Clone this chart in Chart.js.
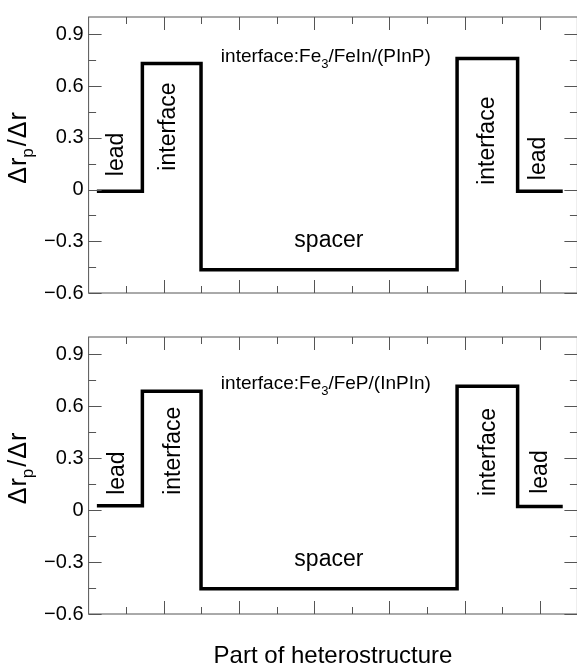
<!DOCTYPE html>
<html>
<head>
<meta charset="utf-8">
<script src="https://cdn.jsdelivr.net/npm/chart.js@4.4.1/dist/chart.umd.min.js"></script>
<style>
  html, body { margin: 0; padding: 0; background: #fff; }
  body { width: 577px; height: 667px; overflow: hidden; position: relative; }
  canvas { position: absolute; left: 0; }
</style>
</head>
<body>
<canvas id="topChart" width="580" height="320" style="top:0"></canvas>
<canvas id="bottomChart" width="580" height="347" style="top:320px"></canvas>
<script>
  // ======= Data =======
  // x positions where the profile changes level (arbitrary units along the heterostructure)
  const STEP_EDGES = [0.22, 1.43, 2.99, 9.80, 11.41, 12.61];
  // level of each part: lead, interface, spacer, interface, lead
  const TOP_LEVELS    = [-0.010, 0.730, -0.465, 0.760, -0.010];
  const BOTTOM_LEVELS = [ 0.025, 0.686, -0.454, 0.715,  0.021];

  const Y_MIN = -0.6, Y_MAX = 1.0, Y_STEP = 0.3, Y_MINOR = 0.15;
  const X_MIN = 0, X_MAX = 13;
  const X_MAJOR = [2, 4, 6, 8, 10, 12];
  const X_MINOR = [1, 3, 5, 7, 9, 11];

  const TOP_TITLE    = ["interface:Fe", "3", "/FeIn/(PInP)"];
  const BOTTOM_TITLE = ["interface:Fe", "3", "/FeP/(InPIn)"];
  const X_TITLE = "Part of heterostructure";

  // labels inside the panels: [text, x, y, vertical]
  const TOP_LABELS = [
    ["lead", 0.74, 0.203, true],
    ["interface", 2.14, 0.365, true],
    ["spacer", 6.39, -0.336, false],
    ["interface", 10.62, 0.283, true],
    ["lead", 11.98, 0.180, true]
  ];
  const BOTTOM_LABELS = [
    ["lead", 0.77, 0.214, true],
    ["interface", 2.27, 0.343, true],
    ["spacer", 6.39, -0.320, false],
    ["interface", 10.65, 0.336, true],
    ["lead", 12.03, 0.220, true]
  ];

  const FONT = "'Liberation Sans', Arial, Helvetica, sans-serif";
  const FRAME = "#555";

  function stepPoints(levels) {
    const pts = levels.map((v, i) => ({ x: STEP_EDGES[i], y: v }));
    pts.push({ x: STEP_EDGES[STEP_EDGES.length - 1], y: levels[levels.length - 1] });
    return pts;
  }

  function fmtTick(v) {
    if (Math.abs(v) < 1e-9) return "0";
    return (v < 0 ? "\u2212" : "") + Math.abs(v).toFixed(1);
  }

  // draw pieces of text with a subscript, starting at x (baseline y)
  function drawParts(ctx, parts, x, y, size, subSize, subShift) {
    let cx = x;
    parts.forEach(p => {
      ctx.font = (p.sub ? subSize : size) + "px " + FONT;
      ctx.fillText(p.t, cx, y + (p.sub ? subShift : 0));
      cx += ctx.measureText(p.t).width + (p.gap || 0);
    });
    return cx - x;
  }
  function partsWidth(ctx, parts, size, subSize) {
    let w = 0;
    parts.forEach(p => {
      ctx.font = (p.sub ? subSize : size) + "px " + FONT;
      w += ctx.measureText(p.t).width + (p.gap || 0);
    });
    return w;
  }

  // frame, inward ticks, labels and axis title
  const decor = {
    id: "decor",
    afterDatasetsDraw(chart, args, opts) {
      const { ctx, chartArea: a, scales: { x, y } } = chart;
      ctx.save();
      ctx.strokeStyle = FRAME;
      ctx.lineWidth = 1;
      ctx.strokeRect(a.left, a.top, a.right - a.left, a.bottom - a.top);

      ctx.beginPath();
      const tick = (px, py, dx, dy) => { ctx.moveTo(px, py); ctx.lineTo(px + dx, py + dy); };
      X_MAJOR.forEach(v => {
        const px = Math.round(x.getPixelForValue(v)) + 0.5;
        tick(px, a.bottom, 0, -13); tick(px, a.top, 0, 13);
      });
      X_MINOR.forEach(v => {
        const px = Math.round(x.getPixelForValue(v)) + 0.5;
        tick(px, a.bottom, 0, -7); tick(px, a.top, 0, 7);
      });
      for (let v = Y_MIN; v <= Y_MAX + 1e-9; v += Y_MINOR) {
        const k = Math.round((v - Y_MIN) / Y_MINOR);
        const len = k % 2 === 0 ? 13 : 7.5;
        const py = Math.round(y.getPixelForValue(v)) + 0.5;
        tick(a.left, py, len, 0); tick(a.right, py, -len, 0);
      }
      ctx.stroke();

      // labels inside the panel
      ctx.fillStyle = "#000";
      ctx.font = "23px " + FONT;
      opts.labels.forEach(([t, lx, ly, vert]) => {
        const px = x.getPixelForValue(lx), py = y.getPixelForValue(ly);
        ctx.save();
        ctx.translate(px, py);
        if (vert) {
          ctx.rotate(-Math.PI / 2);
          ctx.textAlign = "center";
          ctx.textBaseline = "middle";
        } else {
          ctx.textAlign = "center";
          ctx.textBaseline = "alphabetic";
        }
        ctx.fillText(t, 0, 0);
        ctx.restore();
      });

      // panel title with subscript
      const tp = [{ t: opts.title[0] }, { t: opts.title[1], sub: true }, { t: opts.title[2] }];
      ctx.textAlign = "left";
      ctx.textBaseline = "alphabetic";
      const tw = partsWidth(ctx, tp, 19, 13);
      drawParts(ctx, tp, x.getPixelForValue(opts.titleX) - tw / 2, y.getPixelForValue(opts.titleY), 19, 13, 6);

      // y axis title: Δr_p/Δr
      const yp = [
        { t: "\u0394", gap: 1 }, { t: "r" }, { t: "p", sub: true, gap: 2 },
        { t: "/", gap: 1 }, { t: "\u0394", gap: 1 }, { t: "r" }
      ];
      ctx.save();
      ctx.translate(26, (a.top + a.bottom) / 2 - 7);
      ctx.rotate(-Math.PI / 2);
      const yw = partsWidth(ctx, yp, 25, 17);
      drawParts(ctx, yp, -yw / 2, 0, 25, 17, 7);
      ctx.restore();
      ctx.restore();
    }
  };

  function makeChart(id, levels, labels, title, titleY, xHeight, withXTitle) {
    return new Chart(document.getElementById(id), {
      type: "line",
      data: {
        datasets: [{
          data: stepPoints(levels),
          stepped: "before",
          borderColor: "#000",
          borderWidth: 3.5,
          borderJoinStyle: "miter",
          borderCapStyle: "butt",
          pointRadius: 0,
          fill: false
        }]
      },
      options: {
        responsive: false,
        animation: false,
        layout: { padding: { top: 14, right: 2.6, left: 0, bottom: 0 } },
        plugins: {
          legend: { display: false },
          tooltip: { enabled: false },
          decor: { labels, title, titleX: 6.31, titleY }
        },
        scales: {
          x: {
            type: "linear",
            min: X_MIN,
            max: X_MAX,
            grid: { display: false, drawTicks: false },
            border: { display: false },
            ticks: { display: false },
            title: {
              display: withXTitle,
              text: X_TITLE,
              color: "#000",
              font: { family: FONT, size: 24, lineHeight: 0.9 },
              padding: { top: 0, bottom: 0 }
            },
            afterFit: s => { s.height = xHeight; }
          },
          y: {
            min: Y_MIN,
            max: Y_MAX,
            grid: { display: false, drawTicks: false },
            border: { display: false },
            ticks: {
              stepSize: Y_STEP,
              includeBounds: false,
              padding: 5,
              color: "#000",
              font: { family: FONT, size: 20 },
              callback: v => fmtTick(v)
            },
            afterFit: s => { s.width = 88.6; }
          }
        }
      },
      plugins: [decor]
    });
  }

  makeChart("topChart", TOP_LEVELS, TOP_LABELS, TOP_TITLE, 0.737, 27, false);
  makeChart("bottomChart", BOTTOM_LEVELS, BOTTOM_LABELS, BOTTOM_TITLE, 0.697, 53, true);
</script>
</body>
</html>
